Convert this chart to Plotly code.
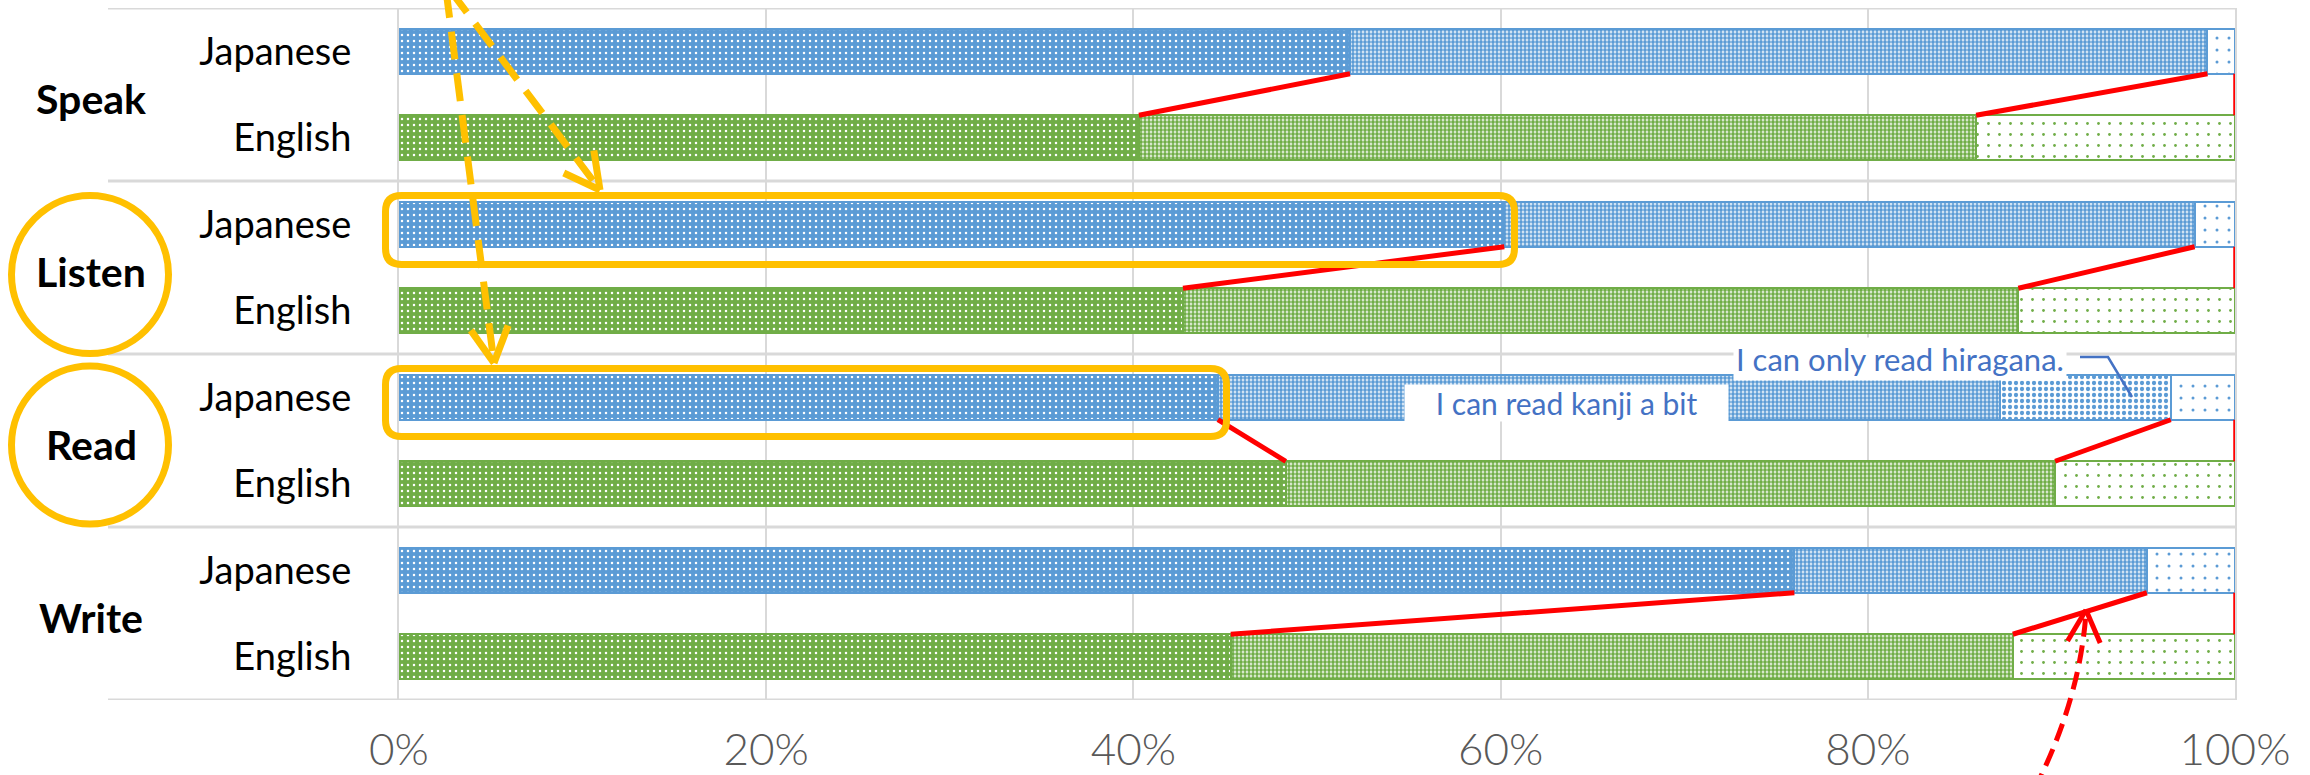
import math
import plotly.graph_objects as go

# ---- data -------------------------------------------------------------
skills = ["Speak", "Listen", "Read", "Write"]
languages = ["Japanese", "English"]

# share of respondents (%) per level, stacked left to right
jp_fluent = [51.8, 60.2, 44.6, 76.0]
jp_partial = [46.7, 37.6, 42.6, 19.2]
jp_hiragana = [0.0, 0.0, 9.3, 0.0]
jp_none = [1.5, 2.2, 3.5, 4.8]

en_fluent = [40.3, 42.7, 48.3, 45.3]
en_partial = [45.6, 45.5, 41.9, 42.6]
en_none = [14.1, 11.8, 9.8, 12.1]

x_ticks = [0, 20, 40, 60, 80, 100]
x_tick_labels = ["0%", "20%", "40%", "60%", "80%", "100%"]

# ---- styling ----------------------------------------------------------
BLUE = "#5B9BD5"
GREEN = "#70AD47"
GOLD = "#FFC000"
RED = "#FF0000"
NOTE = "#4472C4"
GRID = "#D9D9D9"
FONT = "Lato, 'Open Sans', sans-serif"

W, H = 2310, 775
PL, PR, PT, PB = 399, 2235, 8, 700
BAR_W = 0.52
HALF = BAR_W / 2


def px(x):
    return (x - PL) / (PR - PL)


def py(y):
    return (PB - y) / (PB - PT)


rows = [f"{s} {l}" for s in skills for l in languages]
row_text = [l for s in skills for l in languages]
jp_rows = [f"{s} Japanese" for s in skills]
en_rows = [f"{s} English" for s in skills]


def blank_zero(vals):
    return [v if v else None for v in vals]


def segment(y, x, shape, fg, bg, size, solidity, edge, edge_w=2):
    return go.Bar(
        orientation="h", y=y, x=blank_zero(x), width=BAR_W,
        marker=dict(
            color=bg,
            line=dict(color=edge, width=edge_w),
            pattern=dict(shape=shape, fgcolor=fg, bgcolor=bg, size=size,
                         solidity=solidity, fillmode="replace"),
        ),
        showlegend=False, hoverinfo="x+y",
    )


fig = go.Figure()
fig.add_trace(segment(jp_rows, jp_fluent, ".", "white", BLUE, 6, 0.14, BLUE))
fig.add_trace(segment(jp_rows, jp_partial, ".", BLUE, "white", 4, 0.7, BLUE))
fig.add_trace(segment(jp_rows, jp_hiragana, ".", BLUE, "white", 6, 0.4, BLUE, 2.5))
fig.add_trace(segment(jp_rows, jp_none, ".", BLUE, "white", 12, 0.05, BLUE))
fig.add_trace(segment(en_rows, en_fluent, ".", "white", GREEN, 6, 0.14, GREEN))
fig.add_trace(segment(en_rows, en_partial, ".", GREEN, "white", 4, 0.7, GREEN))
fig.add_trace(segment(en_rows, en_none, ".", GREEN, "white", 11, 0.05, GREEN))

shapes = []

# group separators across labels and plot
for b in [-0.5, 1.5, 3.5, 5.5, 7.5]:
    shapes.append(dict(type="line", xref="paper", yref="y", x0=px(108), x1=1,
                       y0=b, y1=b, line=dict(color=GRID, width=3), layer="below"))

# red connectors between Japanese and English level boundaries
for i in range(len(skills)):
    yj = 2 * i + HALF
    ye = 2 * i + 1 - HALF
    jp_a = jp_fluent[i]
    jp_b = jp_fluent[i] + jp_partial[i] + jp_hiragana[i]
    en_a = en_fluent[i]
    en_b = en_fluent[i] + en_partial[i]
    for xe, xj in [(en_a, jp_a), (en_b, jp_b)]:
        shapes.append(dict(type="line", xref="x", yref="y", x0=xe, y0=ye,
                           x1=xj, y1=yj, line=dict(color=RED, width=5)))
    shapes.append(dict(type="line", xref="x", yref="y", x0=100, y0=ye,
                       x1=100, y1=yj, line=dict(color=RED, width=3.5)))


def rounded_rect(x0, y0, x1, y1, r):
    pts = [("M", [(x0 + r, y0)]), ("L", [(x1 - r, y0)]),
           ("Q", [(x1, y0), (x1, y0 + r)]), ("L", [(x1, y1 - r)]),
           ("Q", [(x1, y1), (x1 - r, y1)]), ("L", [(x0 + r, y1)]),
           ("Q", [(x0, y1), (x0, y1 - r)]), ("L", [(x0, y0 + r)]),
           ("Q", [(x0, y0), (x0 + r, y0)])]
    path = ""
    for cmd, ps in pts:
        path += cmd + " " + " ".join(f"{px(a):.5f},{py(b):.5f}" for a, b in ps) + " "
    return path + "Z"


# highlight boxes around the Japanese listening / reading bars
for box in [(385.5, 195.5, 1514.5, 264.5), (385.5, 368.5, 1226.5, 436.5)]:
    shapes.append(dict(type="path", xref="paper", yref="paper",
                       path=rounded_rect(*box, 16), line=dict(color=GOLD, width=7)))

# circles around the group labels
for cy in [274.5, 445.0]:
    shapes.append(dict(type="circle", xref="paper", yref="paper",
                       x0=px(11.5), x1=px(168.5), y0=py(cy - 79), y1=py(cy + 79),
                       line=dict(color=GOLD, width=7)))


def arrow_head(tail, tip, length, angle, color, width):
    dx, dy = tip[0] - tail[0], tip[1] - tail[1]
    n = math.hypot(dx, dy)
    ux, uy = -dx / n, -dy / n
    out = []
    for s in (1, -1):
        a = math.radians(angle) * s
        wx = ux * math.cos(a) - uy * math.sin(a)
        wy = ux * math.sin(a) + uy * math.cos(a)
        out.append(dict(type="line", xref="paper", yref="paper",
                        x0=px(tip[0]), y0=py(tip[1]),
                        x1=px(tip[0] + wx * length), y1=py(tip[1] + wy * length),
                        line=dict(color=color, width=width)))
    return out


# dashed gold pointers coming in from above
for tail, tip in [((446, -10), (494, 363)), ((450, -10), (600, 190))]:
    shapes.append(dict(type="line", xref="paper", yref="paper",
                       x0=px(tail[0]), y0=py(tail[1]), x1=px(tip[0]), y1=py(tip[1]),
                       line=dict(color=GOLD, width=7, dash="28px,14px")))
    shapes += arrow_head(tail, tip, 40, 28, GOLD, 7)

# dashed red pointer from below
red_path = (f"M {px(2034):.5f},{py(790):.5f} "
            f"Q {px(2080):.5f},{py(700):.5f} {px(2086):.5f},{py(612):.5f}")
shapes.append(dict(type="path", xref="paper", yref="paper", path=red_path,
                   line=dict(color=RED, width=5, dash="18px,9px")))
shapes += arrow_head((2080, 700), (2086, 610), 36, 27, RED, 5)

# callout leader for the hiragana note
shapes.append(dict(type="path", xref="paper", yref="paper",
                   path=f"M {px(2080):.5f},{py(357):.5f} L {px(2108):.5f},{py(357):.5f} "
                        f"L {px(2132):.5f},{py(397):.5f}",
                   line=dict(color=NOTE, width=2.5)))

annotations = []
for i, s in enumerate(skills):
    annotations.append(dict(xref="paper", yref="y", x=px(91), y=2 * i + 0.5,
                            yshift=-4, text=f"<b>{s}</b>", showarrow=False,
                            xanchor="center", yanchor="middle",
                            font=dict(family=FONT, size=41, color="black")))

pad = "&nbsp;" * 4
annotations.append(dict(xref="paper", yref="paper", x=px(1566), y=py(403),
                        text=f"{pad}I can read kanji a bit{pad}", showarrow=False,
                        xanchor="center", yanchor="middle",
                        bgcolor="white", borderpad=0,
                        font=dict(family=FONT, size=30, color=NOTE)))
annotations.append(dict(xref="paper", yref="paper", x=px(1900), y=py(359),
                        text="I can only read hiragana.", showarrow=False,
                        xanchor="center", yanchor="middle",
                        bgcolor="white", borderpad=2,
                        font=dict(family=FONT, size=31, color=NOTE)))

fig.update_layout(
    width=W, height=H,
    margin=dict(l=PL, r=W - PR, t=PT, b=H - PB, pad=0, autoexpand=False),
    paper_bgcolor="white", plot_bgcolor="white",
    barmode="stack", bargap=0,
    shapes=shapes, annotations=annotations,
    xaxis=dict(range=[0, 100], tickvals=x_ticks, ticktext=x_tick_labels,
               automargin=False,
               showgrid=True, gridcolor=GRID, gridwidth=2, zeroline=False,
               showline=False, ticks="", ticklabelstandoff=20,
               tickfont=dict(family=FONT, size=44, color="#595959", weight=300)),
    yaxis=dict(type="category", categoryorder="array", categoryarray=rows,
               automargin=False,
               range=[7.5, -0.5], tickmode="array", tickvals=rows, ticktext=row_text,
               showgrid=False, zeroline=False, showline=True, mirror=True,
               linecolor=GRID, linewidth=2, ticks="", ticklabelstandoff=38,
               tickfont=dict(family=FONT, size=38, color="black")),
)

fig.write_html("out.html")
